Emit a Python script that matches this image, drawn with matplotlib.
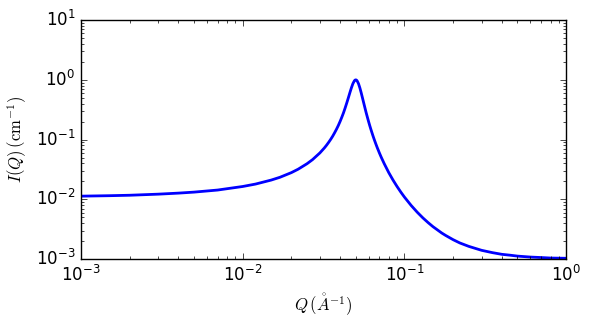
import matplotlib
matplotlib.use("Agg")
import matplotlib.pyplot as plt

plt.style.use("classic")

# values
q = [0.001, 0.0015, 0.002, 0.003, 0.004, 0.005, 0.007, 0.01, 0.012, 0.015,
     0.017, 0.02, 0.022, 0.025, 0.027, 0.03, 0.032, 0.033, 0.034, 0.035,
     0.036, 0.037, 0.038, 0.039, 0.04, 0.041, 0.042, 0.043, 0.044, 0.045,
     0.046, 0.047, 0.048, 0.049, 0.0495, 0.05, 0.0505, 0.051, 0.052, 0.053,
     0.054, 0.055, 0.056, 0.057, 0.058, 0.059, 0.06, 0.061, 0.062, 0.063,
     0.064, 0.065, 0.066, 0.067, 0.068, 0.07, 0.072, 0.075, 0.08, 0.085,
     0.09, 0.095, 0.1, 0.11, 0.12, 0.13, 0.14, 0.15, 0.17, 0.18, 0.2, 0.22,
     0.25, 0.3, 0.35, 0.4, 0.45, 0.5, 0.6, 0.7, 0.8, 1.0]
intensity = [0.0113, 0.0115, 0.0117, 0.0122, 0.0127, 0.0132, 0.0143, 0.0164,
             0.0180, 0.0210, 0.0234, 0.0280, 0.0319, 0.0395, 0.0461, 0.0598,
             0.0726, 0.0806, 0.0900, 0.101, 0.114, 0.130, 0.149, 0.172, 0.201,
             0.237, 0.281, 0.339, 0.411, 0.501, 0.611, 0.736, 0.863, 0.962,
             0.991, 1.001, 0.991, 0.962, 0.863, 0.736, 0.611, 0.501, 0.411,
             0.339, 0.281, 0.237, 0.201, 0.172, 0.149, 0.130, 0.114, 0.101,
             0.0900, 0.0806, 0.0726, 0.0598, 0.0501, 0.0395, 0.0280, 0.0210,
             0.0164, 0.0132, 0.0109, 0.0079, 0.00608, 0.00489, 0.00408,
             0.00349, 0.00273, 0.00248, 0.00211, 0.00186, 0.00163, 0.00140,
             0.00128, 0.00120, 0.00116, 0.00112, 0.00108, 0.00106, 0.00104,
             0.00103]

fig = plt.figure(figsize=(5.91, 3.30), dpi=100, facecolor="white")
ax = fig.add_axes([0.137, 0.215, 0.821, 0.724])

ax.plot(q, intensity, "b-", linewidth=2)
ax.set_xscale("log")
ax.set_yscale("log")
ax.set_xlim(1e-3, 1)
ax.set_ylim(1e-3, 10)

ax.set_xlabel(r"$Q\,(\mathring{A}^{-1})$")
ax.set_ylabel(r"$I(Q)\,(\mathrm{cm}^{-1})$")

fig.savefig("out.png", dpi=100, facecolor="white")
